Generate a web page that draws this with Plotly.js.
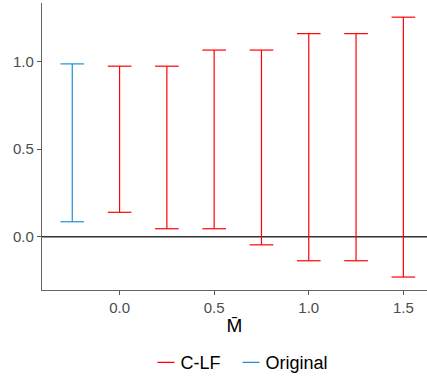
<!DOCTYPE html>
<html>
<head>
<meta charset="utf-8">
<script src="https://cdn.plot.ly/plotly-3.0.1.min.js"></script>
<style>html,body{margin:0;padding:0;background:#fff;}</style>
</head>
<body>
<div id="chart" style="width:427px;height:379px;"></div>
<script>
// Data
const seriesNames = ["C-LF", "Original"];
const clfX = [0.0, 0.25, 0.5, 0.75, 1.0, 1.25, 1.5];
const clfLow = [0.139, 0.045, 0.045, -0.047, -0.138, -0.138, -0.231];
const clfHigh = [0.974, 0.974, 1.066, 1.066, 1.160, 1.160, 1.254];
const origX = [-0.25];
const origLow = [0.085];
const origHigh = [0.987];
const xTickVals = [0, 0.5, 1, 1.5];
const xTickText = ["0.0", "0.5", "1.0", "1.5"];
const yTickVals = [0, 0.5, 1];
const yTickText = ["0.0", "0.5", "1.0"];

const capHalf = 0.0625;
function segments(xs, lo, hi) {
  const X = [], Y = [];
  xs.forEach((x, i) => {
    X.push(x, x, null, x - capHalf, x + capHalf, null, x - capHalf, x + capHalf, null);
    Y.push(lo[i], hi[i], null, lo[i], lo[i], null, hi[i], hi[i], null);
  });
  return {X, Y};
}
const s1 = segments(clfX, clfLow, clfHigh);
const s2 = segments(origX, origLow, origHigh);

const traces = [
  {x: s1.X, y: s1.Y, mode: "lines", name: seriesNames[0], line: {color: "#FF0000", width: 1.2}, hoverinfo: "skip"},
  {x: s2.X, y: s2.Y, mode: "lines", name: seriesNames[1], line: {color: "#1F90D8", width: 1.2}, hoverinfo: "skip"}
];

const fam = "Liberation Sans, Arial, sans-serif";
const tickFont = {family: fam, size: 15, color: "#4d4d4d"};
const layout = {
  width: 427, height: 379,
  margin: {l: 42, r: 0, t: 3, b: 89, autoexpand: false},
  paper_bgcolor: "#fff", plot_bgcolor: "#fff",
  showlegend: true,
  legend: {orientation: "h", xref: "container", yref: "container", x: 0.555, xanchor: "center", y: 0.043, yanchor: "middle",
    font: {family: fam, size: 18, color: "#000"}, itemwidth: 30, tracegroupgap: 0},
  xaxis: {range: [-0.41, 1.625], tickvals: xTickVals, ticktext: xTickText, showgrid: false, zeroline: false,
    showline: true, linecolor: "#666", linewidth: 1.1, ticks: "outside", ticklen: 4, tickcolor: "#555",
    tickfont: tickFont, automargin: false, title: {text: "M\u0304", font: {family: fam, size: 19, color: "#000"}, standoff: 3}},
  yaxis: {range: [-0.305, 1.335], tickvals: yTickVals, ticktext: yTickText, showgrid: false, zeroline: false,
    showline: true, linecolor: "#666", linewidth: 1.1, ticks: "outside", ticklen: 4, tickcolor: "#555",
    tickfont: tickFont, automargin: false},
  shapes: [{type: "line", xref: "paper", x0: 0, x1: 1, yref: "y", y0: 0, y1: 0, line: {color: "#333", width: 1.5}, layer: "below"}]
};
Plotly.newPlot("chart", traces, layout, {displayModeBar: false, staticPlot: true}).then(function (gd) {
  // shorten legend line keys to match the reference look
  gd.querySelectorAll(".legendlines path").forEach(function (p) { p.setAttribute("d", "M17,0h17"); });
});
</script>
</body>
</html>
